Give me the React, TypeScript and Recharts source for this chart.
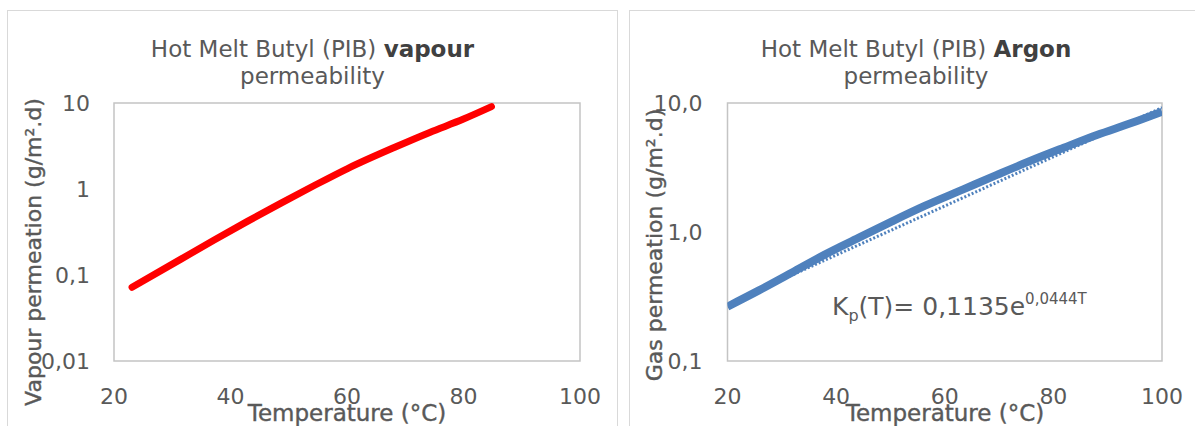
import React from 'react';
import { LineChart, Line, XAxis, YAxis, ReferenceArea } from 'recharts';

// Hot melt butyl vapour curve
const vapourTemperature = [23.1, 31.5, 37.2, 42.9, 48.6, 54.3, 60.1, 68.5, 74.2, 80, 84.8];
const vapourPermeation = [0.072, 0.153, 0.255, 0.42, 0.68, 1.09, 1.73, 3.12, 4.55, 6.5, 9.06];

// Argon curve + its dotted exponential trendline (right chart)
const argonTemperature = [20, 25.7, 31.8, 38, 44.1, 50.3, 56.4, 63.4, 69.6, 75.7, 81.9, 88, 94.2, 100];
const argonPermeation = [0.264, 0.351, 0.483, 0.671, 0.9, 1.21, 1.6, 2.14, 2.77, 3.55, 4.5, 5.65, 6.96, 8.57];
const trendTemperature = [20, 40, 60, 80, 100];
const trendPermeation = [0.275, 0.662, 1.59, 3.83, 9.2];

const temperatureTicks = [20, 40, 60, 80, 100];
const vapourTicks = [0.01, 0.1, 1, 10];
const argonTicks = [0.1, 1, 10];

const FONT = '"DejaVu Sans", sans-serif';
const GREY = '#595959';

const vapourData = vapourTemperature.map((t, i) => ({ t, v: vapourPermeation[i] }));
const argonData = argonTemperature.map((t, i) => ({ t, v: argonPermeation[i] }));
const trendData = trendTemperature.map((t, i) => ({ t, v: trendPermeation[i] }));

const tickStyle = { fontSize: 22, fill: GREY, fontFamily: FONT };

// small helpers for the html text laid over the svg
const Title = ({ left, width, children }: { left: number; width: number; children: React.ReactNode }) => (
  <div style={{ position: 'absolute', left, width, top: 36, textAlign: 'center', fontSize: 23, lineHeight: '27px', color: GREY }}>
    {children}
  </div>
);

const XTitle = ({ cx }: { cx: number }) => (
  <div style={{ position: 'absolute', left: cx - 150, width: 300, top: 400, textAlign: 'center', fontSize: 23, lineHeight: '26px', color: GREY, WebkitTextStroke: '0.4px #595959' }}>
    Temperature (°C)
  </div>
);

const YTitle = ({ cx, cy, text }: { cx: number; cy: number; text: string }) => (
  <div style={{ position: 'absolute', left: cx - 200, top: cy - 13, width: 400, height: 26, lineHeight: '26px', textAlign: 'center', fontSize: 22, color: GREY, transform: 'rotate(-90deg)', whiteSpace: 'nowrap', WebkitTextStroke: '0.4px #595959' }}>
    {text}
  </div>
);

export default function App() {
  return (
    <div style={{ position: 'absolute', left: 0, top: 0, width: 1195, height: 426, overflow: 'hidden', background: '#fff', fontFamily: FONT }}>
      {/* chart panels */}
      <div style={{ position: 'absolute', left: 7, top: 10, width: 611, height: 440, border: '1.5px solid #d9d9d9', boxSizing: 'border-box' }} />
      <div style={{ position: 'absolute', left: 629, top: 10, width: 574, height: 440, border: '1.5px solid #d9d9d9', boxSizing: 'border-box' }} />

      {/* left: vapour */}
      <div style={{ position: 'absolute', left: 0, top: 0 }}>
        <LineChart width={618} height={426} margin={{ top: 103, right: 38, bottom: 35, left: 54 }}>
          <XAxis dataKey="t" type="number" domain={[20, 100]} ticks={temperatureTicks} allowDataOverflow
            axisLine={false} tickLine={false} tickSize={0} tickMargin={27} tick={tickStyle} height={30} />
          <YAxis dataKey="v" type="number" scale="log" domain={[0.01, 10]} ticks={vapourTicks} allowDataOverflow
            axisLine={false} tickLine={false} tickSize={0} tickMargin={24} tick={tickStyle} width={60}
            tickFormatter={(v: number) => String(v).replace('.', ',')} />
          <ReferenceArea x1={20} x2={100} y1={0.01} y2={10} fill="none" stroke="#c4c4c4" strokeWidth={1.5} />
          <Line data={vapourData} dataKey="v" type="monotone" stroke="#ff0000" strokeWidth={7}
            strokeLinecap="round" dot={false} activeDot={false} isAnimationActive={false} />
        </LineChart>
      </div>

      {/* right: argon */}
      <div style={{ position: 'absolute', left: 600, top: 0 }}>
        <LineChart width={595} height={426} margin={{ top: 103, right: 33, bottom: 35, left: 67.5 }}>
          <XAxis dataKey="t" type="number" domain={[20, 100]} ticks={temperatureTicks} allowDataOverflow
            axisLine={false} tickLine={false} tickSize={0} tickMargin={27} tick={tickStyle} height={30} />
          <YAxis dataKey="v" type="number" scale="log" domain={[0.1, 10]} ticks={argonTicks} allowDataOverflow
            axisLine={false} tickLine={false} tickSize={0} tickMargin={25} tick={tickStyle} width={60}
            tickFormatter={(v: number) => v.toFixed(1).replace('.', ',')} />
          <ReferenceArea x1={20} x2={100} y1={0.1} y2={10} fill="none" stroke="#c4c4c4" strokeWidth={1.5} />
          <Line data={trendData} dataKey="v" type="linear" stroke="#4f81bd" strokeWidth={3} strokeDasharray="2 2"
            dot={false} activeDot={false} isAnimationActive={false} />
          <Line data={argonData} dataKey="v" type="monotone" stroke="#4f81bd" strokeWidth={8}
            dot={false} activeDot={false} isAnimationActive={false} />
        </LineChart>
      </div>

      <Title left={7} width={611}>
        Hot Melt Butyl (PIB) <b style={{ color: '#404040' }}>vapour</b><br />permeability
      </Title>
      <Title left={629} width={574}>
        Hot Melt Butyl (PIB) <b style={{ color: '#404040' }}>Argon</b><br />permeability
      </Title>

      <XTitle cx={347} />
      <XTitle cx={945} />
      <YTitle cx={34} cy={252} text="Vapour permeation (g/m².d)" />
      <YTitle cx={655} cy={245} text="Gas permeation (g/m².d)" />

      {/* trendline equation */}
      <div style={{ position: 'absolute', left: 832, top: 292, fontSize: 25, lineHeight: '30px', color: GREY, whiteSpace: 'nowrap' }}>
        K<span style={{ fontSize: 16, position: 'relative', top: 6 }}>p</span>(T)= 0,1135e
        <span style={{ fontSize: 15, position: 'relative', top: -11 }}>0,0444T</span>
      </div>
    </div>
  );
}
